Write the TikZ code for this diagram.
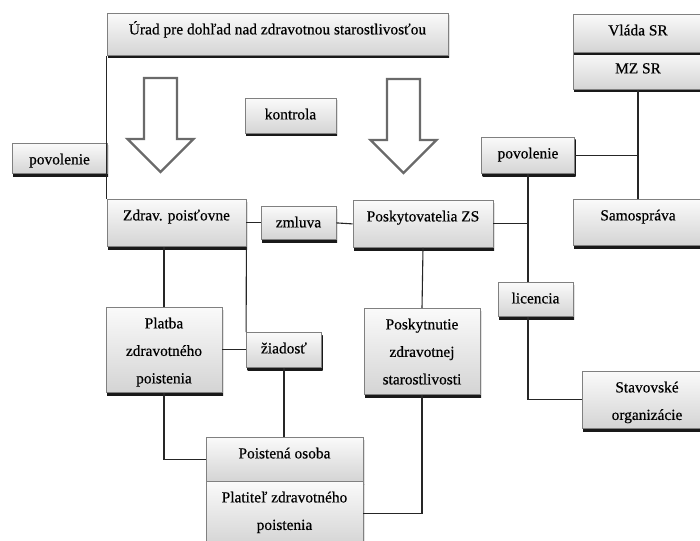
\documentclass[tikz,border=0pt]{standalone}
\usepackage{fontspec}
\setmainfont{Liberation Serif}
\newfontfamily\orgfont{Liberation Serif}[FakeBold=0.5]
\usepackage{xcolor}
\usepackage{tikz}
\usetikzlibrary{shadows,calc}
\definecolor{OrgEdge}{HTML}{808080}
\definecolor{OrgTop}{HTML}{FAFAFA}
\definecolor{OrgBottom}{HTML}{D4D4D4}
\definecolor{OrgArrow}{HTML}{6A6A6A}
\tikzset{
  box/.style={draw=OrgEdge,line width=0.8pt,top color=OrgTop,bottom color=OrgBottom,
    anchor=north,align=center,inner sep=0pt,text height=21pt,
    font=\orgfont\fontsize{15.4}{27.5}\selectfont,
    drop shadow={shadow xshift=1pt,shadow yshift=-2.6pt,top color=black!90,
      bottom color=black!90,draw=none,opacity=1}},
  link/.style={draw=black!85,line width=1.1pt},
  hollow/.style={draw=OrgArrow,line width=2.4pt,fill=white,line join=miter}
}

\begin{document}
\begin{tikzpicture}[x=1pt,y=-1pt]
  \useasboundingbox (0,0) rectangle (700,540);
  % supervision arrows
  \foreach \ax/\at in {160.5/78,403.5/79}
    \draw[hollow] (\ax-16.5,\at) -- (\ax+16.5,\at) -- (\ax+16.5,\at+61) -- (\ax+33,\at+61)
      -- (\ax,\at+94) -- (\ax-33,\at+61) -- (\ax-16.5,\at+61) -- cycle;
  % boxes
  \node[box,minimum width=341pt,text depth=21pt] (urad) at (277.5,13) {Úrad pre dohľad nad zdravotnou starostlivosťou};
  \node[box,minimum width=95pt,text depth=9pt] (povL) at (59.5,143) {povolenie};
  \node[box,minimum width=91pt,text depth=14pt] (kontrola) at (290.5,98) {kontrola};
  \node[box,minimum width=139pt,text depth=26pt] (zdrav) at (176.5,199) {Zdrav. poisťovne};
  \node[box,minimum width=75pt,text depth=12pt] (zmluva) at (298.5,206) {zmluva};
  \node[box,minimum width=140pt,text depth=26pt] (posk) at (423,200) {Poskytovatelia ZS};
  \node[box,minimum width=93pt,text depth=15pt] (povR) at (528,137) {povolenie};
  \node[box,minimum width=130pt,text depth=16pt] (mz) at (638,52) {MZ SR};
  \node[box,minimum width=130pt,text depth=17pt] (vlada) at (638,14) {Vláda SR};
  \node[box,minimum width=130pt,text depth=25pt] (samo) at (638,199) {Samospráva};
  \node[box,minimum width=75pt,text depth=13pt] (licencia) at (535.5,282) {licencia};
  \node[box,minimum width=130pt,text height=48.5pt,text depth=8.5pt] (stav) at (647,371) {Stavovské\\organizácie};
  \node[box,minimum width=116pt,text height=76pt,text depth=9pt] (platba) at (164,307) {Platba\\zdravotného\\poistenia};
  \node[box,minimum width=75pt,text depth=14pt] (ziadost) at (284,332) {žiadosť};
  \node[box,minimum width=116pt,text height=76pt,text depth=10pt] (poskyt) at (422,308) {Poskytnutie\\zdravotnej\\starostlivosti};
  \node[box,minimum width=157pt,text depth=23pt] (poistena) at (284.5,437) {Poistená osoba};
  \node[box,minimum width=157pt,text height=48.5pt,text depth=15.5pt] (platitel) at (284.5,481) {Platiteľ zdravotného\\poistenia};
  % connectors
  \draw[link] (urad.south west) -- (zdrav.north west);
  \draw[link] (zdrav.east) -- (zmluva.west);
  \draw[link] (zmluva.east) -- (posk.west);
  \draw[link] (posk.east) -- (posk.east -| povR.south);
  \draw[link] (povR.south) -- (povR.south |- licencia.north);
  \draw[link] (povR.south |- licencia.south) |- (stav.west);
  \draw[link] (mz.south) -- (samo.north);
  \draw[link] (povR.east) -- (povR.east -| mz.south);
  \draw[link] (platba.north) -- (platba.north |- zdrav.south);
  \draw[link] (zdrav.south east) -- (ziadost.north west);
  \draw[link] (platba.east) -- (ziadost.west);
  \draw[link] (ziadost.south) -- (ziadost.south |- poistena.north);
  \draw[link] (platba.south) |- (poistena.west);
  \draw[link] (posk.south) -- (poskyt.north);
  \draw[link] (poskyt.south) |- (platitel.east);
\end{tikzpicture}
\end{document}
